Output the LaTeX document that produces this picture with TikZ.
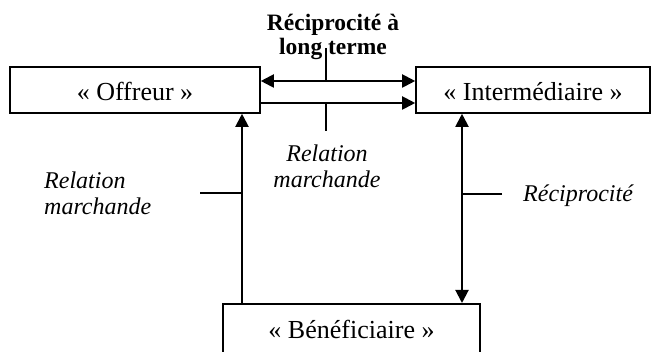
\documentclass[tikz,border=0pt]{standalone}
\usepackage{fontspec}
\setmainfont{Liberation Serif}
\usetikzlibrary{arrows.meta}
\begin{document}
\begin{tikzpicture}[x=1pt,y=-1pt,
  box/.style={draw,line width=1.6pt,inner sep=0pt,font=\fontsize{26}{28}\selectfont},
  conn/.style={line width=2pt,-{Triangle[length=13pt,width=13pt]}},
  biconn/.style={line width=2pt,{Triangle[length=13pt,width=13pt]}-{Triangle[length=13pt,width=13pt]}},
  tickline/.style={line width=1.5pt},
  lab/.style={inner sep=0pt,font=\fontsize{24}{26}\selectfont\itshape},
  boldlab/.style={inner sep=0pt,align=center,font=\fontsize{23.5}{24}\selectfont\bfseries}]
\useasboundingbox (0,0) rectangle (651,352);
\clip (0,0) rectangle (651,352);
\fill[white] (0,0) rectangle (651,352);
% boxes
\node[box,minimum width=250pt,minimum height=46pt,text height=22pt,text depth=0pt] (off) at (135,90) {« Offreur »};
\node[box,minimum width=234pt,minimum height=46pt,text height=22pt,text depth=0pt] (int) at (533,90) {« Intermédiaire »};
\node[box,minimum width=257pt,minimum height=60pt,text height=22pt,text depth=12pt,anchor=north] (ben) at (351.5,303) {« Bénéficiaire »};
% helper coordinates
\coordinate (la) at (242,0);
\coordinate (ra) at (462,0);
\coordinate (h1) at (0,81);
\coordinate (h2) at (0,103);
\coordinate (t1) at (326,48);
\coordinate (t2) at (326,131);
\coordinate (tl) at (200,193);
\coordinate (tr) at (502,194);
% connectors
\draw[biconn] (off.east |- h1) -- (int.west |- h1);
\draw[conn] (off.east |- h2) -- (int.west |- h2);
\draw[conn] (ben.north -| la) -- (off.south -| la);
\draw[biconn] (int.south -| ra) -- (ben.north -| ra);
% ticks
\draw[tickline] (t1) -- (t1 |- h1);
\draw[tickline] (t2) -- (t2 |- h2);
\draw[tickline] (tl) -- (tl -| la);
\draw[tickline] (tr) -- (tr -| ra);
% labels
\node[boldlab,anchor=base] (lt) at (333,55) {Réciprocité à\\long terme};
\node[lab,anchor=base west,align=left] (rm1) at (44,215) {Relation\\marchande};
\node[lab,anchor=base,align=center] (rm2) at (327,188) {Relation\\marchande};
\node[lab,anchor=base west] (rec) at (523,202) {Réciprocité};
\end{tikzpicture}
\end{document}
